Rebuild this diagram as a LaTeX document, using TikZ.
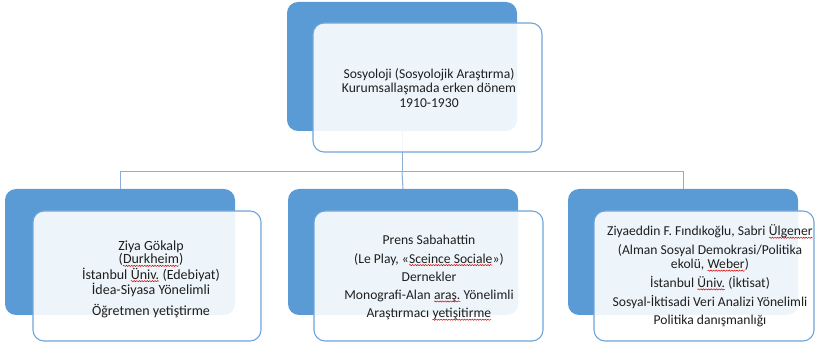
\documentclass[tikz,border=0pt]{standalone}
\usepackage{fontspec}
\setmainfont{Carlito}
\usetikzlibrary{decorations.pathmorphing}
\definecolor{backblue}{HTML}{5B9BD5}
\definecolor{frameblue}{HTML}{6FA5DA}
\definecolor{connblue}{HTML}{8CADD6}
\definecolor{txt}{HTML}{1E1E1E}
\newcommand{\sqg}[1]{\tikz[baseline=(sqw.base)]{\node[inner sep=0pt,outer sep=0pt,minimum width=0pt,minimum height=0pt,draw=none,fill=none](sqw){#1};\draw[red!85!black,line width=0.5pt,decorate,decoration={snake,amplitude=0.6pt,segment length=2.6pt}] ([yshift=-2pt]sqw.base west) -- ([yshift=-2pt]sqw.base east);}}
\tikzset{
  backbox/.style={fill=backblue,rounded corners=11pt,inner sep=0pt,minimum width=230pt},
  frontbox/.style={draw=frameblue,line width=1.1pt,fill=white,fill opacity=0.9,rounded corners=11pt,inner sep=0pt,minimum height=130pt},
  conn/.style={draw=connblue,line width=1pt},
  label/.style={align=center,text=txt,font=\fontsize{13.6}{14.2}\selectfont,inner sep=0pt}
}
\begin{document}
\begin{tikzpicture}[x=1pt,y=-1pt]
\useasboundingbox (0,0) rectangle (816,344);
% back boxes
\node[backbox,minimum height=129pt] (tb) at (402,66.5) {};
\node[backbox,minimum height=126pt] (lb) at (120,252) {};
\node[backbox,minimum height=126pt] (mb) at (403,252) {};
\node[backbox,minimum height=126pt] (rb) at (683,252) {};
% connectors
\coordinate (bus) at (0,172);
\draw[conn] (tb.south) -- (tb.south |- bus) -| (lb.north);
\draw[conn] (tb.south |- bus) -| (rb.north);
\draw[conn] (tb.south |- bus) -- (mb.north);
% front boxes
\node[frontbox,minimum width=229pt,minimum height=129pt] (tf) at (427.5,87.5) {};
\node[frontbox,minimum width=228pt] (lf) at (147,276) {};
\node[frontbox,minimum width=229pt] (mf) at (428.5,276) {};
\node[frontbox,minimum width=220pt] (rf) at (704,276) {};
% texts
\node[label] (tt) at (429,88) {Sosyoloji (Sosyolojik Araştırma)\\Kurumsallaşmada erken dönem\\1910-1930};
\node[label,font=\fontsize{14}{13.6}\selectfont] (lt) at (151,279) {Ziya Gökalp\\(\sqg{Durkheim})\\İstanbul \sqg{Üniv.} (Edebiyat)\\İdea-Siyasa Yönelimli\\[7pt]Öğretmen yetiştirme};
\node[label] (mt) at (429,278) {Prens Sabahattin\\[4pt](Le Play, «\sqg{Sceince Sociale}»)\\[4pt]Dernekler\\[4pt]Monografi-Alan \sqg{araş.} Yönelimli\\[4pt]Araştırmacı \sqg{yetişitirme}};
\node[label] (rt) at (710,276) {Ziyaeddin F. Fındıkoğlu, Sabri \sqg{Ülgener}\\[4.5pt](Alman Sosyal Demokrasi/Politika\\ekolü, \sqg{Weber})\\[4.5pt]İstanbul \sqg{Üniv.} (İktisat)\\[4.5pt]Sosyal-İktisadi Veri Analizi Yönelimli\\[4.5pt]Politika danışmanlığı};
\end{tikzpicture}
\end{document}
